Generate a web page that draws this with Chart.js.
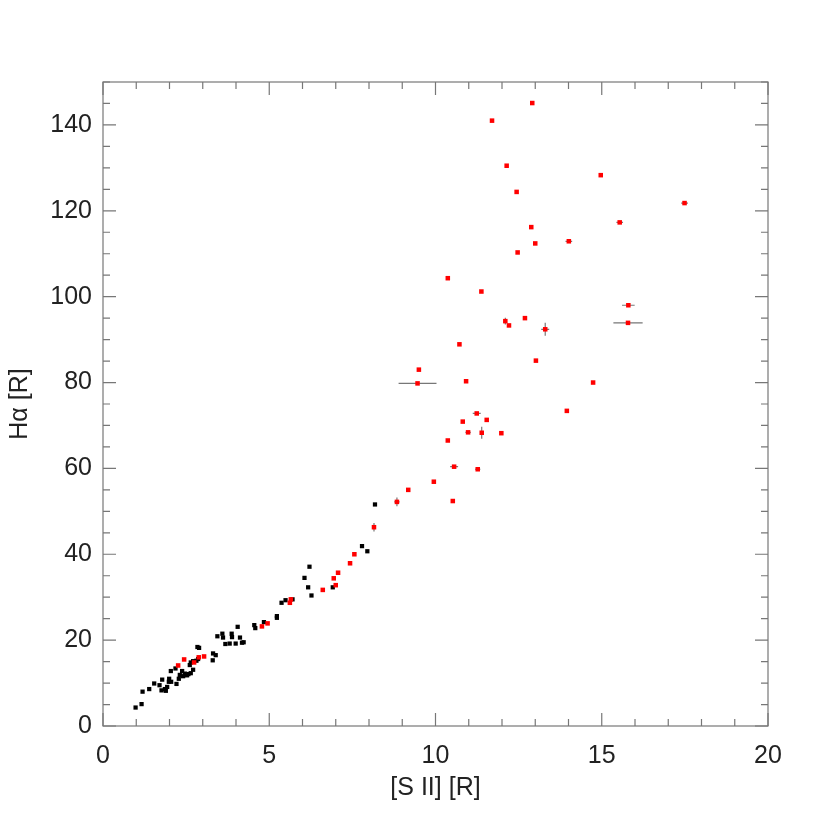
<!DOCTYPE html>
<html>
<head>
<meta charset="utf-8">
<script src="https://cdn.jsdelivr.net/npm/chart.js@4.4.1/dist/chart.umd.min.js"></script>
<style>
  html, body { margin: 0; padding: 0; background: #fff; }
  #wrap { width: 830px; height: 830px; }
</style>
</head>
<body>
<div id="wrap"><canvas id="c" width="830" height="830"></canvas></div>
<script>
// ---- data ----
const blackX = [0.98,1.16,1.19,1.39,1.54,1.70,1.78,1.76,1.86,1.89,1.93,1.98,1.99,2.05,2.21,2.04,2.18,2.28,2.31,2.38,2.41,2.46,2.53,2.57,2.64,2.71,2.61,2.64,2.71,2.81,2.86,2.84,2.89,3.30,3.31,3.39,3.44,3.59,3.61,3.68,3.81,3.87,3.88,3.99,4.05,4.12,4.18,4.23,4.55,4.58,4.84,5.23,5.23,5.37,5.49,5.70,6.27,6.17,6.91,6.06,6.21,7.79,7.95,8.18];
const blackY = [4.3,5.1,8.0,8.6,9.9,9.5,10.8,8.3,8.6,8.2,9.1,10.3,11.0,10.3,9.8,12.8,13.4,11.0,11.9,12.8,11.6,12.2,11.8,12.1,12.3,13.1,14.2,14.8,15.1,15.2,15.6,18.4,18.2,15.3,16.9,16.5,20.9,21.5,20.6,19.1,19.2,21.5,20.7,19.2,23.1,20.6,19.4,19.5,23.5,22.8,24.2,25.6,25.2,28.7,29.3,29.5,30.4,32.3,32.3,34.5,37.1,41.9,40.7,51.6];

const redX = [2.26,2.44,2.74,2.88,3.04,4.78,4.95,5.62,5.65,6.61,7.00,6.94,7.07,7.43,7.56,8.15,8.84,9.18,9.95,10.52,10.56,11.27,10.37,10.98,11.39,11.98,10.82,11.54,11.24,13.95,9.46,10.92,14.74,9.50,13.02,10.72,13.30,12.21,12.10,12.69,15.79,15.80,11.38,10.37,12.47,13.00,14.01,12.88,15.54,17.49,12.44,14.97,12.14,11.70,12.91];
const redY = [14.1,15.5,14.8,16.0,16.2,23.2,23.9,28.7,29.5,31.7,32.8,34.4,35.7,37.9,40.0,46.3,52.2,55.0,56.9,52.4,60.4,59.8,66.5,68.4,68.3,68.2,70.9,71.3,72.8,73.4,79.8,80.3,80.0,83.0,85.1,88.9,92.4,93.3,94.3,95.0,93.9,98.0,101.2,104.3,110.3,112.4,112.9,116.2,117.3,121.8,124.4,128.3,130.5,141.0,145.1];
const redXErr = [0,0,0,0,0,0,0,0,0,0,0,0,0,0,0,0.06,0.08,0,0,0,0.12,0.08,0,0.08,0.05,0,0,0,0.12,0,0.57,0,0,0,0,0,0.12,0,0,0,0.44,0.19,0,0,0,0,0.10,0,0.10,0.10,0,0,0,0,0];
const redYErr = [0,0,0,0,0,0,0,0,0,0,0,0,0,0,0,1.0,1.0,0,0,0,0,0,0,0,1.4,0,0,0,0,0,0,0,0,0,0,0,1.5,0,0.8,0,0,0,0,0,0,0,0,0,0,0,0,0,0,0,0];

const xTickLabels = [0,5,10,15,20];
const yTickLabels = [0,20,40,60,80,100,120,140];
const xRange = [0,20], yRange = [0,150];
const xMinor = 1, yMinor = 5;

const toPts = (xs, ys) => xs.map((v,i) => ({x: v, y: ys[i]}));

// ---- plugins ----
const errorBars = {
  id: 'errorBars',
  beforeDatasetsDraw(chart) {
    const {ctx, scales: {x, y}} = chart;
    ctx.save();
    ctx.strokeStyle = '#777';
    ctx.lineWidth = 1.2;
    ctx.beginPath();
    redX.forEach((vx, i) => {
      const vy = redY[i];
      if (redXErr[i] > 0) {
        const py = y.getPixelForValue(vy);
        ctx.moveTo(x.getPixelForValue(vx - redXErr[i]), py);
        ctx.lineTo(x.getPixelForValue(vx + redXErr[i]), py);
      }
      if (redYErr[i] > 0) {
        const px = x.getPixelForValue(vx);
        ctx.moveTo(px, y.getPixelForValue(vy - redYErr[i]));
        ctx.lineTo(px, y.getPixelForValue(vy + redYErr[i]));
      }
    });
    ctx.stroke();
    ctx.restore();
  }
};

const frameTicks = {
  id: 'frameTicks',
  afterDraw(chart) {
    const {ctx, chartArea: a, scales: {x, y}} = chart;
    ctx.save();
    ctx.strokeStyle = '#777';
    ctx.lineWidth = 1.2;
    ctx.strokeRect(a.left, a.top, a.right - a.left, a.bottom - a.top);
    ctx.beginPath();
    for (let v = xRange[0]; v <= xRange[1] + 1e-9; v += xMinor) {
      const px = x.getPixelForValue(v);
      const L = xTickLabels.includes(v) ? 13 : 7;
      ctx.moveTo(px, a.bottom); ctx.lineTo(px, a.bottom - L);
      ctx.moveTo(px, a.top); ctx.lineTo(px, a.top + L);
    }
    for (let v = yRange[0]; v <= yRange[1] + 1e-9; v += yMinor) {
      const py = y.getPixelForValue(v);
      const L = (v % 20 === 0) ? 13 : 7;
      ctx.moveTo(a.left, py); ctx.lineTo(a.left + L, py);
      ctx.moveTo(a.right, py); ctx.lineTo(a.right - L, py);
    }
    ctx.stroke();
    ctx.restore();
  }
};

const FONT = "'Liberation Sans', 'DejaVu Sans', sans-serif";

new Chart(document.getElementById('c'), {
  type: 'scatter',
  data: {
    datasets: [
      {
        label: 'red',
        data: toPts(redX, redY),
        pointStyle: 'rect',
        pointRadius: 3.2,
        pointHoverRadius: 3.2,
        backgroundColor: '#ff0000',
        borderColor: '#ff0000',
        borderWidth: 0,
        order: 0
      },
      {
        label: 'black',
        data: toPts(blackX, blackY),
        pointStyle: 'rect',
        pointRadius: 3,
        pointHoverRadius: 3,
        backgroundColor: '#000000',
        borderColor: '#000000',
        borderWidth: 0,
        order: 1
      }
    ]
  },
  options: {
    responsive: false,
    animation: false,
    events: [],
    layout: { padding: { top: 82, right: 62, left: 0, bottom: 0 } },
    plugins: { legend: { display: false }, tooltip: { enabled: false } },
    scales: {
      x: {
        type: 'linear',
        min: xRange[0], max: xRange[1],
        grid: { display: false, drawTicks: false },
        border: { display: false },
        ticks: {
          stepSize: 5,
          padding: 15,
          color: '#222',
          font: { family: FONT, size: 25 },
          maxRotation: 0,
          callback: v => xTickLabels.includes(v) ? String(v) : ''
        },
        title: {
          display: true,
          text: '[S II] [R]',
          color: '#222',
          font: { family: FONT, size: 25 },
          padding: { top: 0, bottom: 27 }
        },
        afterFit: s => { s.height = 104; }
      },
      y: {
        type: 'linear',
        min: yRange[0], max: yRange[1],
        grid: { display: false, drawTicks: false },
        border: { display: false },
        ticks: {
          stepSize: 5,
          autoSkip: false,
          padding: 11,
          color: '#222',
          font: { family: FONT, size: 25 },
          callback: v => yTickLabels.includes(v) ? String(v) : ''
        },
        title: {
          display: true,
          text: 'Hα [R]',
          color: '#222',
          font: { family: FONT, size: 25 },
          padding: { top: 5, bottom: 0 }
        },
        afterFit: s => { s.width = 103; }
      }
    }
  },
  plugins: [errorBars, frameTicks]
});
</script>
</body>
</html>
